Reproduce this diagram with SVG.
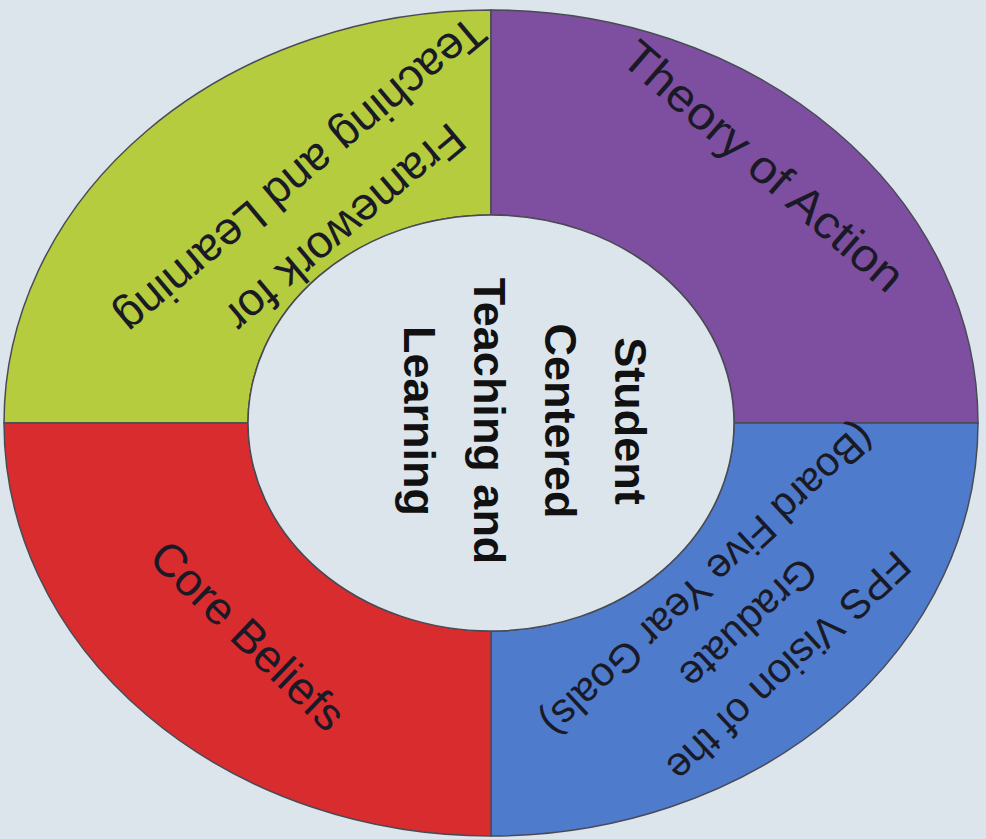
<svg xmlns="http://www.w3.org/2000/svg" width="986" height="839" viewBox="0 0 986 839">
<style>
.seg{stroke:#4a4a55;stroke-width:1.5}
.lbl{font-family:"Liberation Sans",Arial,sans-serif;font-size:46px;fill:#1a1a26;text-anchor:middle}
.ctr{font-family:"Liberation Sans",Arial,sans-serif;font-size:45px;font-weight:bold;fill:#111;text-anchor:middle}
</style>
<rect width="986" height="839" fill="#dce5ec"/>
<g id="framework">
<path class="seg" fill="#b4cc3e" d="M 4,423 A 487 413 0 0 1 491,10 L 491,215 A 243 208 0 0 0 248,423 Z"/>
<text class="lbl" transform="translate(322,200) rotate(140)"><tspan x="0" y="-21">Framework for</tspan><tspan x="0" y="48">Teaching and Learning</tspan></text>
</g>
<g id="theory">
<path class="seg" fill="#7e4ea0" d="M 491,10 A 487 413 0 0 1 978,423 L 734,423 A 243 208 0 0 0 491,215 Z"/>
<text class="lbl" transform="translate(753,178) rotate(41)" x="0" y="0" textLength="356" lengthAdjust="spacingAndGlyphs">Theory of Action</text>
</g>
<g id="vision">
<path class="seg" fill="#4e7bcc" d="M 978,423 A 487 413 0 0 1 491,836 L 491,631 A 243 208 0 0 0 734,423 Z"/>
<text class="lbl" style="font-size:41px" transform="translate(747,622) rotate(137)"><tspan x="0" y="-47">FPS Vision of the</tspan><tspan x="0" y="12">Graduate</tspan><tspan x="0" y="71">(Board Five Year Goals)</tspan></text>
</g>
<g id="core">
<path class="seg" fill="#d92c2f" d="M 491,836 A 487 413 0 0 1 4,423 L 248,423 A 243 208 0 0 0 491,631 Z"/>
<text class="lbl" transform="translate(237,647) rotate(44)" x="0" y="0">Core Beliefs</text>
</g>
<g id="center">
<ellipse class="seg" cx="491" cy="423" rx="243" ry="208" fill="#dce5ec"/>
<text class="ctr" transform="translate(525,421) rotate(90)"><tspan x="0" y="-90">Student</tspan><tspan x="0" y="-20">Centered</tspan><tspan x="0" y="51">Teaching and</tspan><tspan x="0" y="121">Learning</tspan></text>
</g>
</svg>
